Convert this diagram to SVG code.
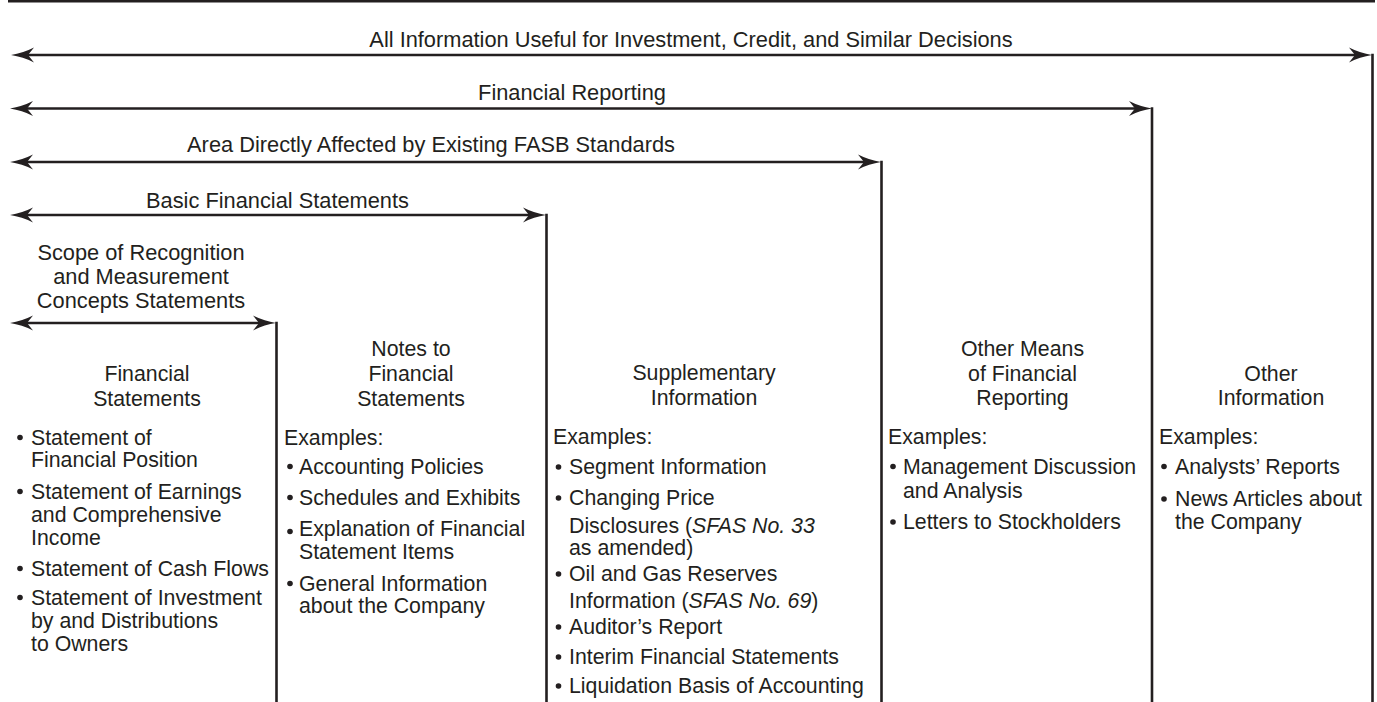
<svg xmlns="http://www.w3.org/2000/svg" width="1377" height="702" viewBox="0 0 1377 702">
  <style>
    text { font-family: "Liberation Sans", Arial, sans-serif; fill: #231f20; }
    .lbl { font-size: 21.8px; text-anchor: middle; }
    .ttl { font-size: 21.3px; text-anchor: middle; }
    .bd { font-size: 21.3px; }
    .it { font-style: italic; }
    .ln { stroke: #231f20; stroke-width: 2.6; fill: none; }
    .dot { fill: #231f20; }
  </style>
  <defs>
    <marker id="ah" markerUnits="userSpaceOnUse" markerWidth="24" markerHeight="16" viewBox="0 0 24 16" refX="9" refY="8" orient="auto-start-reverse">
      <path d="M24,8 Q12,6.2 1,0.6 L7,8 L1,15.4 Q12,9.8 24,8 Z" fill="#231f20"/>
    </marker>
  </defs>

  <rect width="1377" height="702" fill="#ffffff"/>

  <g id="top-rule">
    <line class="ln" x1="8" y1="1.3" x2="1375" y2="1.3"/>
  </g>

  <g id="connectors">
    <line class="ln" x1="26" y1="55" x2="1357" y2="55" marker-start="url(#ah)" marker-end="url(#ah)"/>
    <line class="ln" x1="25" y1="108.5" x2="1137" y2="108.5" marker-start="url(#ah)" marker-end="url(#ah)"/>
    <line class="ln" x1="25" y1="162" x2="866" y2="162" marker-start="url(#ah)" marker-end="url(#ah)"/>
    <line class="ln" x1="25" y1="215" x2="531" y2="215" marker-start="url(#ah)" marker-end="url(#ah)"/>
    <line class="ln" x1="25" y1="323" x2="261" y2="323" marker-start="url(#ah)" marker-end="url(#ah)"/>
    <line class="ln" x1="1372.5" y1="53.7" x2="1372.5" y2="702"/>
    <line class="ln" x1="1152" y1="107.2" x2="1152" y2="702"/>
    <line class="ln" x1="881.5" y1="160.7" x2="881.5" y2="702"/>
    <line class="ln" x1="546.5" y1="213.7" x2="546.5" y2="702"/>
    <line class="ln" x1="276.5" y1="321.7" x2="276.5" y2="702"/>
  </g>

  <g id="label-all">
    <text class="lbl" x="691" y="46.5">All Information Useful for Investment, Credit, and Similar Decisions</text>
  </g>
  <g id="label-financial-reporting">
    <text class="lbl" x="572" y="99.5">Financial Reporting</text>
  </g>
  <g id="label-area">
    <text class="lbl" x="431" y="152">Area Directly Affected by Existing FASB Standards</text>
  </g>
  <g id="label-basic">
    <text class="lbl" x="277.5" y="207.5">Basic Financial Statements</text>
  </g>
  <g id="label-scope">
    <text class="lbl" x="141" y="260">Scope of Recognition</text>
    <text class="lbl" x="141" y="284">and Measurement</text>
    <text class="lbl" x="141" y="308">Concepts Statements</text>
  </g>

  <g id="col-financial-statements">
    <text class="ttl" x="147" y="381">Financial</text>
    <text class="ttl" x="147" y="405.5">Statements</text>
    <circle class="dot" cx="20" cy="437.5" r="2.8"/>
    <text class="bd" x="31" y="444.5">Statement of</text>
    <text class="bd" x="31" y="467">Financial Position</text>
    <circle class="dot" cx="20" cy="491.5" r="2.8"/>
    <text class="bd" x="31" y="498.5">Statement of Earnings</text>
    <text class="bd" x="31" y="521.5">and Comprehensive</text>
    <text class="bd" x="31" y="544.5">Income</text>
    <circle class="dot" cx="20" cy="568.5" r="2.8"/>
    <text class="bd" x="31" y="575.5">Statement of Cash Flows</text>
    <circle class="dot" cx="20" cy="597.5" r="2.8"/>
    <text class="bd" x="31" y="604.5">Statement of Investment</text>
    <text class="bd" x="31" y="627.5">by and Distributions</text>
    <text class="bd" x="31" y="650.5">to Owners</text>
  </g>

  <g id="col-notes">
    <text class="ttl" x="411" y="355.5">Notes to</text>
    <text class="ttl" x="411" y="381">Financial</text>
    <text class="ttl" x="411" y="405.5">Statements</text>
    <text class="bd" x="284" y="444.5">Examples:</text>
    <circle class="dot" cx="290" cy="466.5" r="2.8"/>
    <text class="bd" x="299" y="473.5">Accounting Policies</text>
    <circle class="dot" cx="290" cy="497.5" r="2.8"/>
    <text class="bd" x="299" y="504.5">Schedules and Exhibits</text>
    <circle class="dot" cx="290" cy="531.5" r="2.8"/>
    <text class="bd" x="299" y="535.5">Explanation of Financial</text>
    <text class="bd" x="299" y="558.5">Statement Items</text>
    <circle class="dot" cx="290" cy="583.5" r="2.8"/>
    <text class="bd" x="299" y="590.5">General Information</text>
    <text class="bd" x="299" y="612.5">about the Company</text>
  </g>

  <g id="col-supplementary">
    <text class="ttl" x="704" y="379.5">Supplementary</text>
    <text class="ttl" x="704" y="404.5">Information</text>
    <text class="bd" x="553" y="444">Examples:</text>
    <circle class="dot" cx="558.5" cy="467" r="2.8"/>
    <text class="bd" x="569" y="474">Segment Information</text>
    <circle class="dot" cx="558.5" cy="498" r="2.8"/>
    <text class="bd" x="569" y="505">Changing Price</text>
    <text class="bd" x="569" y="532.5">Disclosures (<tspan class="it">SFAS No. 33</tspan></text>
    <text class="bd" x="569" y="555">as amended)</text>
    <circle class="dot" cx="558.5" cy="574" r="2.8"/>
    <text class="bd" x="569" y="581">Oil and Gas Reserves</text>
    <text class="bd" x="569" y="608">Information (<tspan class="it">SFAS No. 69</tspan>)</text>
    <circle class="dot" cx="558.5" cy="627" r="2.8"/>
    <text class="bd" x="569" y="634">Auditor’s Report</text>
    <circle class="dot" cx="558.5" cy="657" r="2.8"/>
    <text class="bd" x="569" y="664">Interim Financial Statements</text>
    <circle class="dot" cx="558.5" cy="686" r="2.8"/>
    <text class="bd" x="569" y="693">Liquidation Basis of Accounting</text>
  </g>

  <g id="col-other-means">
    <text class="ttl" x="1022.5" y="356">Other Means</text>
    <text class="ttl" x="1022.5" y="380.5">of Financial</text>
    <text class="ttl" x="1022.5" y="404.5">Reporting</text>
    <text class="bd" x="888" y="443.5">Examples:</text>
    <circle class="dot" cx="893" cy="466.5" r="2.8"/>
    <text class="bd" x="903" y="473.5">Management Discussion</text>
    <text class="bd" x="903" y="498">and Analysis</text>
    <circle class="dot" cx="893" cy="522" r="2.8"/>
    <text class="bd" x="903" y="529">Letters to Stockholders</text>
  </g>

  <g id="col-other-information">
    <text class="ttl" x="1271" y="380.5">Other</text>
    <text class="ttl" x="1271" y="404.5">Information</text>
    <text class="bd" x="1159" y="443.5">Examples:</text>
    <circle class="dot" cx="1164" cy="466.5" r="2.8"/>
    <text class="bd" x="1175" y="473.5">Analysts’ Reports</text>
    <circle class="dot" cx="1164" cy="499" r="2.8"/>
    <text class="bd" x="1175" y="506">News Articles about</text>
    <text class="bd" x="1175" y="528.5">the Company</text>
  </g>
</svg>
